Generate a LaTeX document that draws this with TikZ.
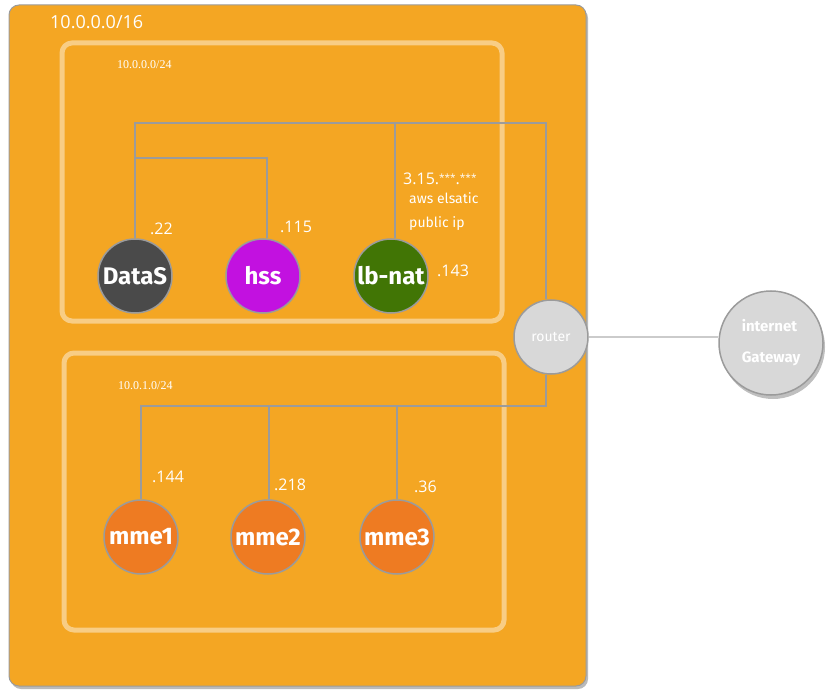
\documentclass[tikz,border=0pt]{standalone}
\usepackage{fontspec}
\setmainfont{Open Sans}
\newfontfamily\nodefont{Fira Sans}
\newfontfamily\serifsm{Liberation Serif}
\usetikzlibrary{shadows}
\definecolor{vpc}{HTML}{F4A623}
\definecolor{subnetborder}{HTML}{F8CD85}
\definecolor{wire}{HTML}{9B9B9B}
\definecolor{darkgray}{HTML}{4A4A4A}
\definecolor{hsscol}{HTML}{C211E0}
\definecolor{nat}{HTML}{417505}
\definecolor{mmecol}{HTML}{EE7B22}
\definecolor{lightg}{HTML}{D8D8D8}
\tikzset{
  host/.style={circle, draw=wire, line width=1.5pt, minimum size=74pt, inner sep=0pt,
    text=white, font=\nodefont\bfseries\fontsize{24}{24}\selectfont},
  wireline/.style={draw=wire, line width=1.5pt},
  subnet/.style={draw=subnetborder, line width=5pt, rounded corners=10pt},
  lbl/.style={text=white, font=\fontsize{16}{16}\selectfont, inner sep=0pt},
  sublbl/.style={text=white, font=\serifsm\fontsize{12}{12}\selectfont, inner sep=0pt},
}
\begin{document}
\begin{tikzpicture}[x=1pt,y=-1pt]
\useasboundingbox (0,0) rectangle (834,700);
% VPC
\draw[draw=wire, line width=1pt, fill=vpc, rounded corners=10pt,
  drop shadow={shadow xshift=2pt, shadow yshift=-3pt, fill=black!45, opacity=0.6}]
  (9,5) rectangle (586,686);
\node[lbl, font=\fontsize{18}{18}\selectfont, anchor=west] (vpclbl) at (50,22) {10.0.0.0/16};
% subnets
\draw[subnet] (62,43) rectangle (502,321);
\draw[subnet] (64,353) rectangle (504,630);
\node[sublbl, anchor=west] (s1lbl) at (117,65) {10.0.0.0/24};
\node[sublbl, anchor=west] (s2lbl) at (118,386) {10.0.1.0/24};
% hosts
\node[host, fill=darkgray] (datas) at (135,276) {DataS};
\node[host, fill=hsscol] (hss) at (263,276) {hss};
\node[host, fill=nat] (lbnat) at (391,276) {lb-nat};
\node[host, fill=mmecol] (mme1) at (141,537) {mme1};
\node[host, fill=mmecol] (mme2) at (268,537) {mme2};
\node[host, fill=mmecol] (mme3) at (397,537) {mme3};
\node[circle, draw=wire, line width=1.5pt, fill=lightg, minimum size=74pt, inner sep=0pt,
  text=white, font=\nodefont\fontsize{14}{14}\selectfont] (router) at (551,337) {router};
\node[circle, draw=wire, line width=1.5pt, fill=lightg, minimum size=104pt, inner sep=0pt,
  text=white, font=\nodefont\bfseries\fontsize{15}{31}\selectfont, align=left,
  drop shadow={shadow xshift=2pt, shadow yshift=-4pt, fill=black!50, opacity=0.5}]
  (igw) at (771,343) {internet\\Gateway};
% wires
\coordinate (c1) at (135,123);
\coordinate (c2) at (546,123);
\coordinate (c3) at (135,158);
\coordinate (c4) at (267,158);
\coordinate (c5) at (546,406);
\coordinate (c6) at (141,406);
\draw[wireline] (datas.north) -- (c1) -- (c2) -- (router.north -| c2);
\draw[wireline] (c3) -- (c4) -- (hss.north -| c4);
\draw[wireline] (lbnat.north -| 395,0) -- (395,123);
\draw[wireline] (router.south -| c5) -- (c5) -- (c6) -- (mme1.north);
\draw[wireline] (mme2.north -| 269,0) -- (269,406);
\draw[wireline] (mme3.north) -- (397,406);
\draw[draw=lightg!85!gray, line width=2pt] (router.east) -- (igw.west |- router.east);
% ip labels
\node[lbl, anchor=west] (ip1) at (150,229) {.22};
\node[lbl, anchor=west] (ip2) at (280,227) {.115};
\node[lbl, anchor=west] (ip3) at (437,271) {.143};
\node[lbl, anchor=west] (ip4) at (152,477) {.144};
\node[lbl, anchor=west] (ip5) at (274,485) {.218};
\node[lbl, anchor=west] (ip6) at (414,487) {.36};
\node[lbl, anchor=west] (pub1) at (403,179) {3.15.\raisebox{3pt}{\fontsize{10}{10}\selectfont***}.\raisebox{3pt}{\fontsize{10}{10}\selectfont***}};
\node[lbl, anchor=west, font=\nodefont\fontsize{14}{14}\selectfont] (pub2) at (409,198) {aws elsatic};
\node[lbl, anchor=west, font=\nodefont\fontsize{14}{14}\selectfont] (pub3) at (409,224) {public ip};
\end{tikzpicture}
\end{document}
